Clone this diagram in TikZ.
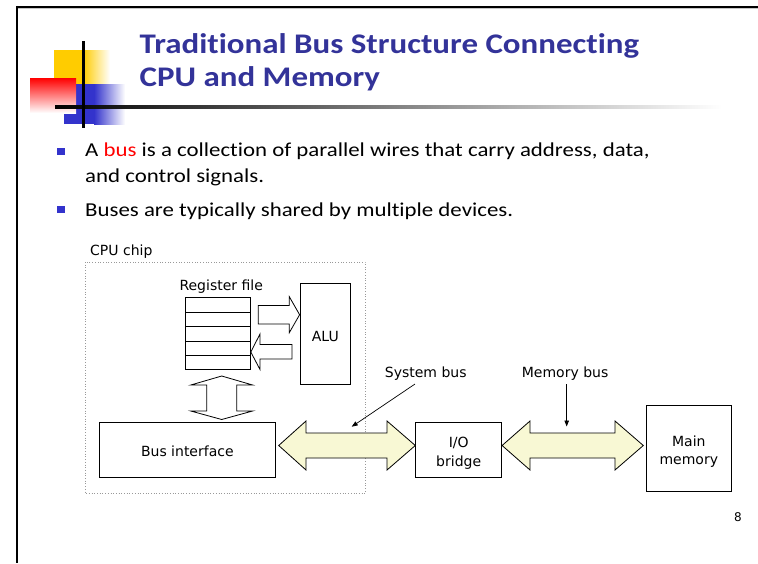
\documentclass[tikz,border=0pt]{standalone}
\usepackage{fontspec}
\setmainfont{Carlito}[Ligatures={NoCommon}]
\newfontfamily\diagfont{DejaVu Sans}
\usetikzlibrary{arrows.meta}
\definecolor{titleblue}{RGB}{51,51,153}
\definecolor{bulletblue}{RGB}{51,51,204}
\definecolor{busfill}{RGB}{248,248,212}
\definecolor{logoyellow}{RGB}{255,204,0}
\definecolor{logoblue}{RGB}{51,51,204}
\newcommand{\wide}[1]{\scalebox{1.16}[1]{#1}}
\begin{document}
\begin{tikzpicture}[x=1pt,y=-1pt,
  lbl/.style={font=\diagfont\fontsize{14}{19}\selectfont, inner sep=0pt},
  box/.style={draw=black, line width=0.8pt, fill=white, inner sep=0pt},
  regrow/.style={draw=black, line width=0.8pt, fill=white, minimum width=64.7pt, minimum height=14.4pt, inner sep=0pt, anchor=north west},
  hollow/.style={draw=black, line width=0.8pt, fill=white, line join=miter},
  busarrow/.style={draw=black, line width=0.8pt, fill=busfill, line join=miter},
  pointer/.style={draw=black, line width=0.7pt, -{Triangle[length=6pt,width=4.5pt]}},
  bulletsq/.style={fill=bulletblue, minimum width=7.5pt, minimum height=7pt, inner sep=0pt},
  titletext/.style={anchor=base west, inner sep=0pt, text=titleblue, font=\bfseries\fontsize{28.4}{30}\selectfont},
  bodytext/.style={anchor=base west, inner sep=0pt, font=\fontsize{19.7}{24}\selectfont}]
\useasboundingbox (0,0) rectangle (758,563);
\fill[white] (0,0) rectangle (758,563);
% slide frame
\draw[gray!45, line width=1.5pt] (18,8.6) -- (758,8.6);
\draw[black, line width=2pt] (17,6.8) -- (758,6.8);
\draw[black, line width=2.5pt] (17,5.8) -- (17,563);
% logo
\fill[logoyellow] (54,50) rectangle (83.5,85);
\shade[left color=logoyellow, right color=white] (83,50) rectangle (110,85);
\fill[logoblue] (64,84) rectangle (94.5,124);
\shade[left color=logoblue, right color=white] (94,84) rectangle (125,124);
\shade[shading angle=-45, top color=red, middle color=red!40, bottom color=white] (30,78) rectangle (76,113);
\shade[left color=black, middle color=black!60, right color=white] (55,105.6) rectangle (722,108.4);
\draw[black, line width=3pt] (83,41) -- (83,128);
% title
\node[titletext] (title1) at (139.5,53.3) {\wide{Traditional Bus Structure Connecting}};
\node[titletext] (title2) at (139.5,86.7) {\wide{CPU and Memory}};
% bullets
\node[bulletsq] (b1) at (61.2,151) {};
\node[bulletsq] (b2) at (61.2,209.4) {};
\node[bodytext] (t1) at (85,156) {\wide{A \textcolor{red}{bus} is a collection of parallel wires that carry address, data,}};
\node[bodytext] (t2) at (85,182.7) {\wide{and control signals.}};
\node[bodytext] (t3) at (85,216) {\wide{Buses are typically shared by multiple devices.}};
% CPU chip
\node[lbl, anchor=base west] (cpulbl) at (90,255) {CPU chip};
\draw[gray!80, line width=0.7pt, dotted] (85,262) rectangle (365.5,493);
\node[lbl, anchor=base west] (reglbl) at (179.3,290) {Register file};
\node[regrow] (r1) at (185.3,297.3) {};
\node[regrow] (r2) at (185.3,311.7) {};
\node[regrow] (r3) at (185.3,326.1) {};
\node[regrow] (r4) at (185.3,340.5) {};
\node[regrow] (r5) at (185.3,354.9) {};
\node[box, minimum width=50.7pt, minimum height=100.7pt] (alu) at (325.35,333.65) {};
\node[lbl, anchor=base] (alutxt) at (alu.center |- 0,341) {ALU};
% register <-> ALU arrows
\draw[hollow] (258.3,305.5) -- (289.3,305.5) -- (289.3,296.7) -- (alu.west |- 0,314.7) -- (289.3,332.7) -- (289.3,323.9) -- (258.3,323.9) -- cycle;
\draw[hollow] (r4.east |- 0,352) -- (260,334) -- (260,344.5) -- (292,344.5) -- (292,359) -- (260,359) -- (260,369.5) -- cycle;
% register <-> bus interface
\node[box, minimum width=176.7pt, minimum height=54.6pt] (busif) at (187.35,450) {};
\node[lbl, anchor=base] (busiftxt) at (busif.center |- 0,456) {Bus interface};
\draw[hollow] (221.7,376) -- (252.6,385) -- (236.7,385) -- (236.7,411) -- (252.6,411) -- (221.7,419.5) -- (190.8,411) -- (206.7,411) -- (206.7,385) -- (190.8,385) -- cycle;
% I/O bridge and memory
\node[box, minimum width=86pt, minimum height=54.6pt] (iob) at (458.7,450) {};
\node[lbl, anchor=base] (iobtxt1) at (iob.center |- 0,447) {I/O};
\node[lbl, anchor=base] (iobtxt2) at (iob.center |- 0,466) {bridge};
\node[box, minimum width=85.7pt, minimum height=86.7pt] (mem) at (688.85,448.35) {};
\node[lbl, anchor=base] (memtxt1) at (mem.center |- 0,446) {Main};
\node[lbl, anchor=base] (memtxt2) at (mem.center |- 0,464.5) {memory};
% system bus
\draw[busarrow] (busif.east |- 0,445.5) ++(2.6,0) -- (306,421) -- (306,433) -- (387,433) -- (387,421) -- (iob.west |- 0,445.5) -- (387,470) -- (387,458) -- (306,458) -- (306,470) -- cycle;
% memory bus
\draw[busarrow] (iob.east |- 0,445.5) -- (530,421) -- (530,433) -- (615,433) -- (615,421) -- (643.3,445.5) -- (615,470) -- (615,458) -- (530,458) -- (530,470) -- cycle;
% labels and pointers
\node[lbl, anchor=base west] (sbus) at (384.7,377) {System bus};
\node[lbl, anchor=base west] (mbus) at (521.7,377) {Memory bus};
\coordinate (sbusstart) at (415,384);
\coordinate (sbusend) at (351.7,426.7);
\coordinate (mbusstart) at (566.7,384);
\coordinate (mbusend) at (566.7,426.5);
\draw[pointer] (sbusstart) -- (sbusend);
\draw[pointer] (mbusstart) -- (mbusend);
% page number
\node[anchor=base east, inner sep=0pt, font=\diagfont\fontsize{12}{14}\selectfont] (pg) at (742,521) {8};
\end{tikzpicture}
\end{document}
